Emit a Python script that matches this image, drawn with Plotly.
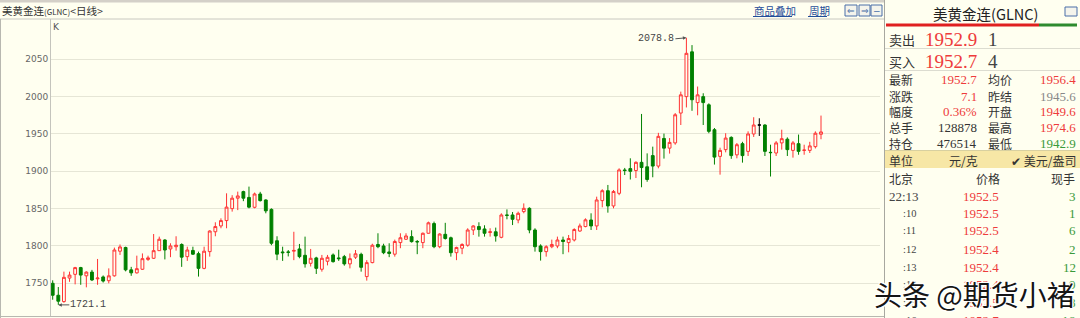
import plotly.graph_objects as go

W, H = 1080, 318

# ---------------- data (daily candles, oldest -> newest) ----------------
opens = [1750, 1734, 1725.5, 1757, 1762, 1771, 1760, 1765, 1756, 1758.5,
         1753.5, 1760, 1793, 1798, 1768, 1764, 1768.8, 1782, 1783.5, 1793.7,
         1808, 1796, 1799, 1802, 1785.7, 1794, 1789.7, 1770, 1792.4, 1819,
         1826.8, 1834, 1850, 1864, 1872.8, 1865, 1851.8, 1869.6, 1861.6, 1849,
         1807, 1792, 1792, 1793, 1796, 1787.5, 1776.8, 1784, 1768.8, 1779.5,
         1788, 1784, 1785.7, 1776, 1785, 1788.8, 1759, 1777.7, 1802, 1800,
         1792, 1789, 1804.5, 1809, 1812.5, 1806, 1804.5, 1817, 1830, 1799,
         1815.6, 1811, 1791, 1797, 1801, 1821.4, 1826, 1822.8, 1818, 1819,
         1811.6, 1841.5, 1841.5, 1834.8, 1846, 1850.4, 1821.4, 1800, 1792.4, 1799,
         1800, 1808, 1804.5, 1808, 1820, 1826, 1834.8, 1826.8, 1860.7, 1874,
         1853.6, 1870.5, 1901.8, 1903.6, 1901, 1912, 1906, 1921, 1907, 1944,
         1931, 1938, 1978, 2000, 2060, 1992, 2000, 1989, 1955.7, 1920,
         1929, 1945.4, 1922, 1937, 1926.7, 1950, 1962, 1962, 1925.4, 1924.5,
         1938, 1943, 1928, 1937, 1928, 1928, 1933, 1949.6]
highs = [1754, 1745, 1765.6, 1765.6, 1772, 1772, 1766, 1768, 1782.6, 1760.5,
         1770, 1797.8, 1802, 1799, 1772, 1787, 1790, 1787, 1816, 1812.5,
         1809, 1803.6, 1813, 1803.5, 1799, 1799, 1792.4, 1799, 1821, 1831.7,
         1837, 1870.5, 1868, 1872.8, 1874, 1879.5, 1871.5, 1872.5, 1862.5, 1850.4,
         1813, 1799, 1794.6, 1819, 1802.7, 1812.5, 1796, 1785.5, 1788, 1788,
         1790, 1795, 1788, 1790, 1794.6, 1791, 1781, 1803, 1817, 1803,
         1803.6, 1808.5, 1817, 1817, 1821, 1808, 1818, 1832.6, 1832.6, 1817,
         1831, 1812.5, 1799, 1803.6, 1823.7, 1827.7, 1831.7, 1827.7, 1823.7, 1824.6,
         1843.75, 1849, 1845.5, 1846, 1857, 1851.8, 1823.7, 1802.2, 1801, 1808.5,
         1812.5, 1812.5, 1814.7, 1823.7, 1830, 1837, 1843.75, 1866, 1876, 1881.7,
         1875, 1904, 1904.5, 1917.4, 1913.4, 1976.8, 1924, 1933, 1951.5, 1950.5,
         1944.5, 1978, 2006.7, 2078.8, 2069, 2013.5, 2004.5, 1991, 1958, 1931.6,
         1951, 1946.8, 1937.9, 1939.5, 1953.5, 1972.4, 1971, 1963, 1935.6, 1940.5,
         1955.7, 1945.4, 1940.5, 1949.2, 1935.6, 1939.5, 1953.5, 1974.6]
lows = [1728, 1721.1, 1724, 1752, 1748.6, 1748, 1744.6, 1753, 1748, 1751,
        1750, 1759, 1788, 1766, 1760, 1763, 1768, 1780, 1782.6, 1793.5,
        1782, 1785, 1793.7, 1772, 1780, 1788, 1759, 1768.8, 1785.7, 1813,
        1823.7, 1823.7, 1846, 1848, 1860, 1850.4, 1850.4, 1859.5, 1843.75, 1801,
        1781, 1780, 1786, 1781, 1783.5, 1771, 1772.5, 1762.5, 1765.6, 1774,
        1777.7, 1780, 1773.6, 1770, 1782.6, 1765.6, 1753.6, 1776.8, 1797, 1789,
        1785, 1785.7, 1797, 1808, 1804.5, 1789, 1797, 1816.5, 1797, 1797,
        1808.5, 1785.7, 1781, 1789, 1799, 1814.7, 1812.5, 1812.5, 1812.5, 1805.8,
        1810.3, 1835.7, 1828, 1830.4, 1843.75, 1817, 1792.4, 1780.4, 1785.7, 1797,
        1797, 1789, 1791.5, 1806, 1819, 1825, 1821.4, 1821.4, 1851.8, 1844.6,
        1850.4, 1868, 1895, 1889, 1891, 1878.6, 1886, 1892, 1904, 1917,
        1923.7, 1935.6, 1962, 1985.5, 1981, 1975, 1962, 1951, 1909, 1895.5,
        1925.4, 1916.7, 1917.4, 1911.6, 1920.5, 1946, 1947.3, 1920.5, 1893, 1920.5,
        1929, 1920.5, 1918.3, 1922.2, 1922.2, 1924.5, 1930.6, 1942.9]
closes = [1734, 1726, 1758, 1761, 1771, 1761, 1765, 1754.5, 1757, 1753,
          1760, 1794.6, 1798.7, 1768, 1764, 1769.6, 1783, 1784, 1793.7, 1809,
          1794.6, 1800, 1801, 1785, 1794.6, 1789, 1770, 1793, 1820, 1826,
          1834, 1852, 1864, 1867, 1864, 1852, 1869.6, 1860.7, 1847, 1803.6,
          1789, 1791, 1791.5, 1794, 1785.7, 1776, 1783.5, 1770, 1783.5, 1784.8,
          1779, 1783, 1776, 1783, 1789.5, 1771.4, 1777.7, 1801, 1799, 1791,
          1790, 1806, 1811, 1813.4, 1805.8, 1805.5, 1817, 1831, 1799, 1816,
          1810, 1791, 1798, 1802, 1821.4, 1826.8, 1822, 1817, 1819, 1813.4,
          1841.5, 1841, 1835.7, 1843.75, 1850.4, 1821.4, 1799, 1792.4, 1799, 1802,
          1808, 1806, 1810, 1822, 1826.8, 1835, 1826.8, 1861.6, 1874, 1853.6,
          1873, 1901.8, 1901, 1900, 1912, 1905, 1889, 1907, 1946.8, 1931,
          1938.7, 1975.7, 2002.4, 2058, 1995.8, 2002.4, 1992, 1953.5, 1919, 1928,
          1944.5, 1921, 1935.6, 1921, 1950, 1962, 1962, 1926.7, 1925, 1938,
          1943.7, 1929, 1938, 1926.7, 1928.4, 1934, 1951, 1952.7]
black_cross_days = [126]           # open == close drawn in black
ytick_vals = [1750, 1800, 1850, 1900, 1950, 2000, 2050]

# quote panel
panel_title = "美黄金连(GLNC)"
book_labels = ["卖出", "买入"]
book_prices = ["1952.9", "1952.7"]
book_sizes = ["1", "4"]
stat_labels_l = ["最新", "涨跌", "幅度", "总手", "持仓"]
stat_values_l = ["1952.7", "7.1", "0.36%", "128878", "476514"]
stat_labels_r = ["均价", "昨结", "开盘", "最高", "最低"]
stat_values_r = ["1956.4", "1945.6", "1949.6", "1974.6", "1942.9"]
tick_times = ["22:13", ":10", ":11", ":12", ":13", ":14", ":15", ":16"]
tick_prices = ["1952.5", "1952.5", "1952.5", "1952.4", "1952.4", "1952.4", "1952.5", "1952.7"]
tick_sizes = ["3", "1", "6", "2", "12", "9", "8", "16"]

# ---------------- styles ----------------
BG = "#FFFFF0"
UP = "#FF3333"
DOWN = "#008000"
PRED = "#EE3B3B"
PGREEN = "#3A9A3A"
DARK = "#333333"
CJK = "Noto Sans CJK SC"
SERIF = "Liberation Serif"
MONO = "Liberation Mono"

n = len(opens)
days = list(range(n))
main_idx = [i for i in days if i not in black_cross_days]

fig = go.Figure()
fig.add_trace(go.Candlestick(
    x=[days[i] for i in main_idx],
    open=[opens[i] for i in main_idx], high=[highs[i] for i in main_idx],
    low=[lows[i] for i in main_idx], close=[closes[i] for i in main_idx],
    increasing=dict(line=dict(color=UP, width=1), fillcolor=BG),
    decreasing=dict(line=dict(color=DOWN, width=1), fillcolor=DOWN),
    whiskerwidth=0, hoverinfo="skip", showlegend=False))
fig.add_trace(go.Candlestick(
    x=[days[i] for i in black_cross_days],
    open=[opens[i] for i in black_cross_days], high=[highs[i] for i in black_cross_days],
    low=[lows[i] for i in black_cross_days], close=[closes[i] for i in black_cross_days],
    increasing=dict(line=dict(color="#000", width=1), fillcolor="#000"),
    decreasing=dict(line=dict(color="#000", width=1), fillcolor="#000"),
    whiskerwidth=0, hoverinfo="skip", showlegend=False))

def X(x):
    return x / W

def Y(y):
    return 1 - y / H

annotations = []
shapes = []

def txt(s, x, y, size, color, anchor="left", family=CJK, **kw):
    annotations.append(dict(text=s, x=X(x), y=Y(y), xref="paper", yref="paper",
                            xanchor=anchor, yanchor="middle", showarrow=False,
                            font=dict(size=size, color=color, family=family), **kw))

def line(x0, y0, x1, y1, color, width=1):
    shapes.append(dict(type="line", xref="paper", yref="paper", x0=X(x0), y0=Y(y0),
                       x1=X(x1), y1=Y(y1), line=dict(color=color, width=width)))

def rect(x0, y0, x1, y1, fill, lc=None, lw=0):
    shapes.append(dict(type="rect", xref="paper", yref="paper", x0=X(x0), y0=Y(y0),
                       x1=X(x1), y1=Y(y1), fillcolor=fill,
                       line=dict(color=lc or fill, width=lw), layer="below"))

# ---- frame of chart window ----
rect(0, 0, 884, 2.5, "#D4D0C8")
line(0, 19, 884, 19, "#C8C8C0")
line(0.5, 19, 0.5, 318, "#B8B8B0")
line(0, 316.5, 884, 316.5, "#B8B8B0")
line(884.5, 0, 884.5, 318, "#A8A8A0")

txt("美黄金连<span style='font-size:8px'>(GLNC)</span>&lt;日线&gt;", 0, 11, 10.5, DARK)
txt("商品叠加", 752, 11, 10.5, "#1F4E9A")
line(753, 16.5, 792, 16.5, "#1F4E9A")
txt("周期", 807, 11, 10.5, "#1F4E9A")
line(808, 16.5, 827, 16.5, "#1F4E9A")
for (a, b), g in zip([(845, 857), (859, 870), (871, 882)], ["⇐", "⇒", "−"]):
    rect(a, 5, b, 16, "#F4F4EC", "#4A6FA8", 1)
    txt(g, (a + b) / 2, 10.5, 9, "#4A6FA8", anchor="center", family="DejaVu Sans")
txt("K", 51, 27, 9, "#555", family="DejaVu Sans")

# high / low markers
imax = max(days, key=lambda i: highs[i])
imin = min(days, key=lambda i: lows[i])
annotations.append(dict(x=imax, y=highs[imax], xref="x", yref="y", text=f"{highs[imax]:.1f}",
                        showarrow=True, ax=-11, ay=1, arrowhead=2, arrowsize=0.7, arrowwidth=1,
                        arrowcolor="#555", xanchor="right", yanchor="middle",
                        font=dict(size=10, color="#444", family=MONO), borderpad=0))
annotations.append(dict(x=imin, y=lows[imin], xref="x", yref="y", text=f"{lows[imin]:.1f}",
                        showarrow=True, ax=11, ay=0, arrowhead=2, arrowsize=0.7, arrowwidth=1,
                        arrowcolor="#555", xanchor="left", yanchor="middle",
                        font=dict(size=10, color="#444", family=MONO), borderpad=0))

# ---- quote panel ----
txt(panel_title, 985, 14, 14.5, "#222", anchor="center")
rect(1065, 7, 1077, 16, "#F4F4EC", "#4A6FA8", 1)
rect(886, 23.5, 1039, 26.5, "#E02020")
rect(1039, 23.5, 1077, 26.5, "#2E8B2E")
book_y = [39.5, 61.5]
for lab, pr, sz, yy in zip(book_labels, book_prices, book_sizes, book_y):
    txt(lab, 887, yy, 13, DARK)
    txt(pr, 923, yy + 0.5, 19, PRED, family=SERIF)
    txt(sz, 986, yy + 0.5, 19, "#444", family=SERIF)
line(885, 48.5, 1080, 48.5, "#DCDCD0")
line(885, 70.5, 1080, 70.5, "#DCDCD0")

stat_y = [80, 96.5, 112, 127.5, 143.5]
col_l = [PRED, PRED, PRED, DARK, DARK]
col_r = [PRED, "#888888", PRED, PRED, PGREEN]
for i, yy in enumerate(stat_y):
    txt(stat_labels_l[i], 887, yy, 12, DARK)
    txt(stat_values_l[i], 979, yy, 13, col_l[i], anchor="right", family=SERIF)
    txt(stat_labels_r[i], 986, yy, 12, DARK)
    txt(stat_values_r[i], 1078, yy, 13, col_r[i], anchor="right", family=SERIF)

rect(885, 151, 1080, 168, "#F7E7A6")
line(885, 150.5, 1080, 150.5, "#D8D0A0")
txt("单位", 887, 160, 12, DARK)
txt("元/克", 947, 160, 12, DARK)
txt("✔ 美元/盎司", 1078, 160, 12, DARK, anchor="right")
txt("北京", 887, 178, 12, DARK)
txt("价格", 988, 178, 12, DARK, anchor="center")
txt("现手", 1077, 178, 12, DARK, anchor="right")

tick_y = [196, 213.5, 231, 249, 267, 284.5, 302, 320]
for i, yy in enumerate(tick_y):
    if i == 0:
        txt(tick_times[i], 887, yy, 13, "#444", family=SERIF)
    else:
        txt(tick_times[i], 901, yy, 10.5, "#444", family=SERIF)
    txt(tick_prices[i], 1001, yy, 13, PRED, anchor="right", family=SERIF)
    txt(tick_sizes[i], 1078, yy, 13, PGREEN, anchor="right", family=SERIF)

# watermark
txt("头条 @期货小褚", 1077, 294, 28, "#151515", anchor="right")
annotations[-1]["font"]["shadow"] = "1px 1px 0 #fff, -1px -1px 0 #fff, 1px -1px 0 #fff, -1px 1px 0 #fff, 0 0 3px #fff"

# ---- axes ----
px_per_day = 5.608
x_first_px = 52.7
x_left_px, x_right_px = 51, 880
x_range = [(x_left_px - x_first_px) / px_per_day, (x_right_px - x_first_px) / px_per_day]

px_per_unit = 0.7467
y_ref_px = 283.3
y_top_px, y_bot_px = 19, 317
y_range = [1750 + (y_ref_px - y_bot_px) / px_per_unit, 1750 + (y_ref_px - y_top_px) / px_per_unit]

fig.update_layout(
    width=W, height=H, autosize=False,
    margin=dict(l=0, r=0, t=0, b=0, pad=0),
    paper_bgcolor=BG, plot_bgcolor=BG,
    boxgap=0.28,
    showlegend=False,
    xaxis=dict(domain=[X(x_left_px), X(x_right_px)], range=x_range,
               showticklabels=False, showgrid=False, zeroline=False, showline=False,
               ticks="", rangeslider=dict(visible=False), fixedrange=True),
    yaxis=dict(domain=[Y(y_bot_px), Y(y_top_px)], range=y_range,
               tickvals=ytick_vals, ticks="", showline=True, linecolor="#C4C4BC", linewidth=1,
               showgrid=True, gridcolor="#E6E6D6", gridwidth=1, zeroline=False,
               tickfont=dict(family="DejaVu Sans", size=9, color="#666"), fixedrange=True),
    annotations=annotations,
    shapes=shapes,
)

fig.write_html("out.html")
